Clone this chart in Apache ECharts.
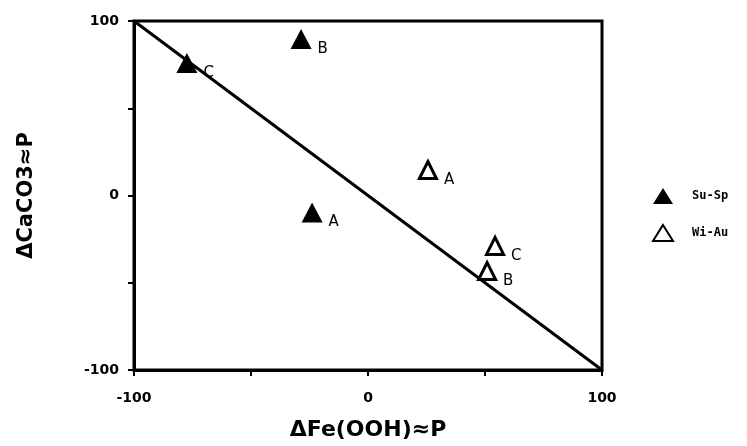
<!DOCTYPE html>
<html>
<head>
<meta charset="utf-8">
<script src="https://cdn.jsdelivr.net/npm/echarts@6/dist/echarts.min.js"></script>
<style>html,body{margin:0;padding:0;background:#fff}#c{width:747px;height:446px}</style>
</head>
<body>
<div id="c"></div>
<script>
const pointLabels = ['A', 'B', 'C'];
const suSpX = [-23.9, -28.6, -77.4];
const suSpY = [-9.7, 89.7, 75.9];
const wiAuX = [25.6, 50.9, 54.3];
const wiAuY = [14.6, -43.3, -28.9];
const lineX = [-100, 100];
const lineY = [100, -100];
const tickLabels = [-100, 0, 100];

const font = '"DejaVu Sans", sans-serif';
function pts(xs, ys) { return xs.map((x, i) => ({ value: [x, ys[i]], name: pointLabels[i] })); }
const lbl = { show: true, position: 'right', distance: 5, offset: [1, 10], formatter: p => p.name,
  color: '#000', fontFamily: font, fontSize: 15, fontWeight: 'normal' };

const axisCommon = {
  min: -100, max: 100, interval: 50,
  axisLine: { show: true, onZero: false, lineStyle: { color: '#000', width: 3 } },
  axisTick: { show: true, length: 6, inside: false, lineStyle: { color: '#000', width: 2 } },
  splitLine: { show: false },
  axisLabel: { color: '#000', fontFamily: font, fontSize: 14, fontWeight: 'bold',
    formatter: v => tickLabels.includes(v) ? String(v) : '' },
  nameLocation: 'middle'
};

const chart = echarts.init(document.getElementById('c'), null, { renderer: 'canvas' });
chart.setOption({
  animation: false,
  backgroundColor: '#fff',
  grid: { left: 134, right: 145, top: 21, bottom: 76, show: true, borderColor: '#000', borderWidth: 3, backgroundColor: 'transparent' },
  xAxis: Object.assign({}, axisCommon, { type: 'value', name: 'ΔFe(OOH)≈P', nameGap: 49,
    nameTextStyle: { color: '#000', fontFamily: font, fontSize: 22, fontWeight: 'bold' },
    axisLabel: Object.assign({}, axisCommon.axisLabel, { margin: 21 }) }),
  yAxis: Object.assign({}, axisCommon, { type: 'value', name: 'ΔCaCO3≈P', nameGap: 97,
    nameTextStyle: { color: '#000', fontFamily: font, fontSize: 21, fontWeight: 'bold' },
    axisLabel: Object.assign({}, axisCommon.axisLabel, { margin: 15 }) }),
  legend: {
    orient: 'vertical', left: 647, top: 183, itemWidth: 20, itemHeight: 16, itemGap: 20,
    data: ['Su-Sp', 'Wi-Au'],
    textStyle: { color: '#000', fontFamily: '"DejaVu Sans Mono", monospace', fontSize: 12, fontWeight: 'bold', padding: [0, 0, 0, 14] }
  },
  series: [
    { type: 'line', data: lineX.map((x, i) => [x, lineY[i]]), symbol: 'none', silent: true,
      lineStyle: { color: '#000', width: 3 }, z: 1 },
    { name: 'Su-Sp', type: 'scatter', data: pts(suSpX, suSpY), symbol: 'triangle', symbolSize: [21, 20],
      itemStyle: { color: '#000', opacity: 1 }, label: lbl, z: 3 },
    { name: 'Wi-Au', type: 'scatter', data: pts(wiAuX, wiAuY), symbol: 'triangle', symbolSize: [17, 17],
      itemStyle: { color: '#fff', borderColor: '#000', borderWidth: 3, opacity: 1 }, label: lbl, z: 3 }
  ]
});
</script>
</body>
</html>
